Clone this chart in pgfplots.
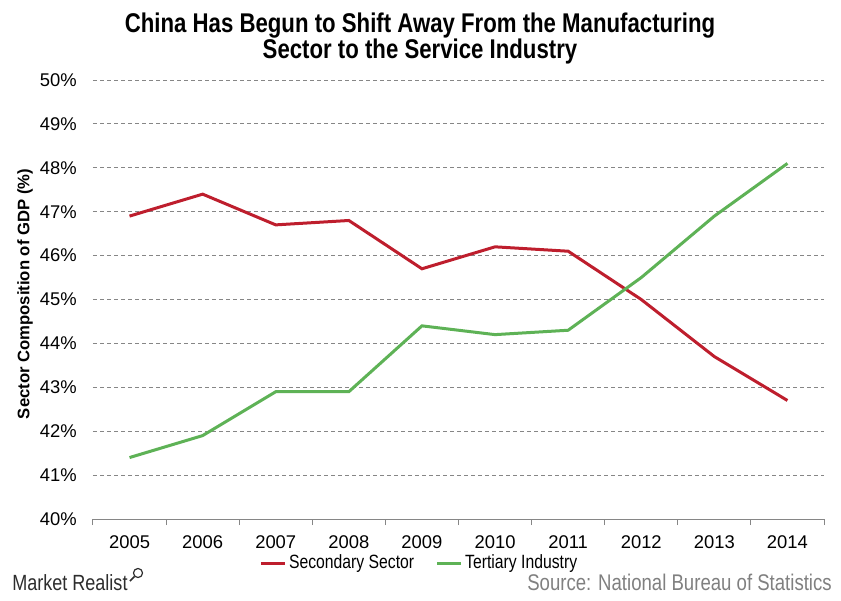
\documentclass[border=0pt]{standalone}
\usepackage{pgfplots}
\pgfplotsset{compat=1.18}
\usepackage{fontspec}
\setmainfont{Liberation Sans}
\newfontfamily\narrow[FakeStretch=0.82]{Liberation Sans}
\definecolor{secred}{RGB}{190,30,45}
\definecolor{tergreen}{RGB}{94,178,86}
\definecolor{axgray}{RGB}{134,134,134}
\definecolor{srcgray}{RGB}{128,128,128}
\definecolor{logo}{RGB}{45,45,45}
\begin{document}
\begin{tikzpicture}
\path[use as bounding box] (0pt,0pt) rectangle (630.75pt,-450pt);
\node[font=\narrow\bfseries\fontsize{20.3}{19.5}\selectfont, align=center] at (315pt,-28.5pt) {China Has Begun to Shift Away From the Manufacturing\\Sector to the Service Industry};
\begin{axis}[
  at={(69.75pt,-389.25pt)}, anchor=south west, scale only axis,
  width=548.25pt, height=329.25pt,
  xmin=-0.5, xmax=9.5, ymin=40, ymax=50,
  axis x line=bottom, axis y line=left,
  x axis line style={-, draw=axgray, line width=0.75pt},
  y axis line style={draw=none},
  xtick={0,...,9},
  xticklabels={2005,2006,2007,2008,2009,2010,2011,2012,2013,2014},
  minor xtick={-0.5,0.5,...,9.5},
  major tick length=0pt, minor tick length=4.5pt, tick align=outside,
  major x tick style={draw=none},
  minor x tick style={draw=axgray, line width=0.75pt},
  ytick={40,41,...,50},
  y tick style={draw=none},
  yticklabel={\pgfmathprintnumber{\tick}\%},
  /pgf/number format/assume math mode=true,
  tick label style={font=\fontsize{13.8}{16}\selectfont},
  yticklabel style={anchor=east, inner sep=0pt, xshift=-12pt},
  xticklabel style={anchor=north, inner sep=0pt, yshift=-12pt},
  ymajorgrids,
  major grid style={draw=axgray, line width=0.75pt, dash pattern=on 3pt off 2.25pt},
  ylabel={Sector Composition of GDP (\%)},
  every axis y label/.style={at={(axis description cs:-0.093,0.5125)}, rotate=90, anchor=center, font=\bfseries\fontsize{12.5}{15}\selectfont},
  legend style={at={(axis description cs:0.2272,-0.1002)}, anchor=west, draw=none, fill=none, inner sep=0pt,
    font=\narrow\fontsize{14.4}{16}\selectfont, legend columns=2,
    /tikz/every even column/.append style={column sep=14pt}},
  legend image code/.code={\draw[#1] (0pt,0pt) -- (18pt,0pt);},
]
\addplot[secred, line width=2.25pt] coordinates {(0,46.9)(1,47.4)(2,46.7)(3,46.8)(4,45.7)(5,46.2)(6,46.1)(7,45.0)(8,43.7)(9,42.7)};
\addlegendentry{Secondary Sector}
\addplot[tergreen, line width=2.25pt] coordinates {(0,41.4)(1,41.9)(2,42.9)(3,42.9)(4,44.4)(5,44.2)(6,44.3)(7,45.5)(8,46.9)(9,48.1)};
\addlegendentry{Tertiary Industry}
\end{axis}
\node[anchor=base west, inner sep=0pt, font=\narrow\fontsize{16.5}{18}\selectfont, text=logo] at (9pt,-442.5pt) {Market Realist};
\draw[logo, line width=0.9pt] (103.5pt,-429.75pt) circle (3.4pt);
\draw[logo, line width=1.2pt] (100.9pt,-432.4pt) -- (97.5pt,-435.75pt);
\node[anchor=base east, inner sep=0pt, font=\narrow\fontsize{17}{18}\selectfont, text=srcgray] at (624pt,-442.5pt) {Source: National Bureau of Statistics};
\end{tikzpicture}
\end{document}
